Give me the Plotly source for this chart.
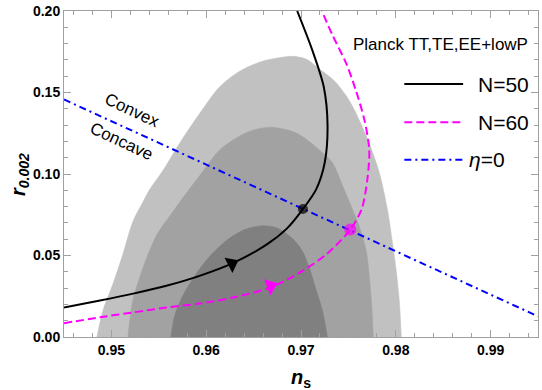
import plotly.graph_objects as go

# ---------------- data ----------------
outer_ns = [0.94847, 0.94911, 0.95016, 0.95121, 0.95226, 0.95332, 0.95405, 0.95563, 0.95721, 0.95932,
            0.96142, 0.96353, 0.96595, 0.96911, 0.97058, 0.97195, 0.97353, 0.97511, 0.97689, 0.97826,
            0.97911, 0.97963, 0.98005, 0.98037, 0.98058]
outer_r = [0.0, 0.0163, 0.0326, 0.0508, 0.0707, 0.0828, 0.0906, 0.1039, 0.1190, 0.1372,
           0.1535, 0.1631, 0.1692, 0.1722, 0.1704, 0.1644, 0.1571, 0.1450, 0.1233, 0.1009,
           0.0785, 0.0586, 0.0405, 0.0224, 0.0]

middle_ns = [0.95174, 0.95226, 0.95332, 0.95479, 0.95647, 0.95721, 0.95932, 0.96142, 0.96353, 0.96532,
             0.96700, 0.96953, 0.97195, 0.97332, 0.97437, 0.97542, 0.97616, 0.97689, 0.97742, 0.97763]
middle_r = [0.0, 0.0224, 0.0423, 0.0628, 0.0767, 0.0828, 0.0991, 0.1148, 0.1233, 0.1275,
            0.1287, 0.1251, 0.1148, 0.1069, 0.0931, 0.0785, 0.0677, 0.0526, 0.0224, 0.0]

inner_ns = [0.95626, 0.95668, 0.95753, 0.95879, 0.96037, 0.96226, 0.96405, 0.96584, 0.96742, 0.96911,
            0.97016, 0.97089, 0.97163, 0.97226, 0.97279]
inner_r = [0.0, 0.0133, 0.0254, 0.0375, 0.0495, 0.0598, 0.0659, 0.0683, 0.0671, 0.0604,
           0.0526, 0.0423, 0.0284, 0.0163, 0.0]

n50_ns = [0.9450, 0.9488, 0.9523, 0.9558, 0.9593, 0.9628, 0.9664, 0.9685, 0.9702, 0.9716,
          0.9725, 0.9728, 0.9724, 0.9712, 0.9696]
n50_r = [0.0181, 0.0224, 0.0266, 0.0314, 0.0375, 0.0453, 0.0568, 0.0665, 0.0785, 0.0906,
         0.1069, 0.1300, 0.1535, 0.1758, 0.2000]

n60_ns = [0.9450, 0.9488, 0.9523, 0.9558, 0.9593, 0.9628, 0.9667, 0.9698, 0.9727, 0.9752,
          0.9764, 0.9770, 0.9772, 0.9767, 0.9758, 0.9748, 0.9733, 0.9722]
n60_r = [0.0085, 0.0121, 0.0151, 0.0181, 0.0205, 0.0242, 0.0302, 0.0393, 0.0508, 0.0659,
         0.0785, 0.0967, 0.1148, 0.1329, 0.1511, 0.1674, 0.1855, 0.2000]

eta0_ns = [0.945, 0.995]
eta0_r = [0.1457, 0.0127]

dot_ns = [0.9702, 0.9752]
dot_r = [0.0785, 0.0659]

arrow_ns = [0.9627, 0.9668]
arrow_r = [0.0450, 0.0313]
arrow_angle = [-27, -21]

x_ticks = [0.95, 0.96, 0.97, 0.98, 0.99]
y_ticks = [0.00, 0.05, 0.10, 0.15, 0.20]

FONT = "Liberation Sans, Arial, sans-serif"

fig = go.Figure()

for xs, ys, col in [(outer_ns, outer_r, "#c1c1c1"),
                    (middle_ns, middle_r, "#a2a2a2"),
                    (inner_ns, inner_r, "#808080")]:
    fig.add_trace(go.Scatter(x=xs, y=ys, mode="lines", fill="toself", fillcolor=col,
                             line=dict(color=col, width=0.5, shape="spline", smoothing=0.8),
                             hoverinfo="skip", showlegend=False))

fig.add_trace(go.Scatter(x=eta0_ns, y=eta0_r, mode="lines",
                         line=dict(color="#0000ff", width=2, dash="7px,4px,2px,4px"),
                         showlegend=False))
fig.add_trace(go.Scatter(x=n60_ns, y=n60_r, mode="lines",
                         line=dict(color="#ff00ff", width=2, dash="8px,4px", shape="spline", smoothing=0.8),
                         showlegend=False))
fig.add_trace(go.Scatter(x=n50_ns, y=n50_r, mode="lines",
                         line=dict(color="black", width=2, shape="spline", smoothing=0.8),
                         showlegend=False))

fig.add_trace(go.Scatter(x=dot_ns, y=dot_r, mode="markers",
                         marker=dict(color=["black", "#ff00ff"], size=[10, 12], line=dict(width=0)),
                         showlegend=False))
fig.add_trace(go.Scatter(x=arrow_ns, y=arrow_r, mode="markers",
                         marker=dict(symbol="triangle-right", color=["black", "#ff00ff"], size=15,
                                     angle=arrow_angle, line=dict(width=0)),
                         showlegend=False))

# Convex / Concave labels
fig.add_annotation(x=0.9522, y=0.1390, text="Convex", showarrow=False, textangle=25,
                   font=dict(family=FONT, size=17, color="black"))
fig.add_annotation(x=0.9511, y=0.1202, text="Concave", showarrow=False, textangle=25,
                   font=dict(family=FONT, size=17, color="black"))

# manual legend
fig.add_annotation(xref="paper", yref="paper", x=0.606, y=0.897, xanchor="left", yanchor="middle",
                   text="Planck TT,TE,EE+lowP", showarrow=False,
                   font=dict(family=FONT, size=17, color="black"))
leg = [("N=50", "black", "solid", 0.776, 0.869),
       ("N=60", "#ff00ff", "8px,4px", 0.659, 0.869),
       ("<i>η</i>=0", "#0000ff", "7px,4px,2px,4px", 0.544, 0.851)]
for txt, col, dash, yp, xt in leg:
    fig.add_shape(type="line", xref="paper", yref="paper", x0=0.718, x1=0.842, y0=yp, y1=yp,
                  line=dict(color=col, width=2, dash=dash))
    fig.add_annotation(xref="paper", yref="paper", x=xt, y=yp, xanchor="left", yanchor="middle",
                       text=txt, showarrow=False, font=dict(family=FONT, size=21, color="black"))

# axis titles
fig.add_annotation(xref="paper", yref="paper", x=0.501, y=-0.128, xanchor="center", yanchor="middle",
                   text="<b><i>n</i><sub>s</sub></b>", showarrow=False,
                   font=dict(family=FONT, size=20, color="black"))
fig.add_annotation(xref="paper", yref="paper", x=-0.095, y=0.50, xanchor="center", yanchor="middle",
                   text="<b><i>r</i><sub><i>0.002</i></sub></b>", showarrow=False, textangle=-90,
                   font=dict(family=FONT, size=20, color="black"))

axis_common = dict(showgrid=False, zeroline=False, showline=True, linecolor="#a0a0a0", linewidth=1,
                   mirror="ticks", ticks="inside", ticklen=7, tickcolor="#a0a0a0", tickwidth=1,
                   ticklabeloverflow="allow",
                   tickfont=dict(family=FONT, size=14, color="black", weight="bold"))

fig.update_xaxes(range=[0.945, 0.995], tickvals=x_ticks, ticktext=[f"{v:.2f}" for v in x_ticks],
                 minor=dict(dtick=0.002, tick0=0.95, ticks="inside", ticklen=4, tickcolor="#a0a0a0"),
                 **axis_common)
fig.update_yaxes(range=[0, 0.2], tickvals=y_ticks, ticktext=[f"{v:.2f}" for v in y_ticks],
                 minor=dict(dtick=0.01, tick0=0, ticks="inside", ticklen=4, tickcolor="#a0a0a0"),
                 **axis_common)

fig.update_layout(width=542, height=390, margin=dict(l=64, r=3, t=6, b=53),
                  plot_bgcolor="white", paper_bgcolor="white", showlegend=False)

fig.write_html("out.html")
